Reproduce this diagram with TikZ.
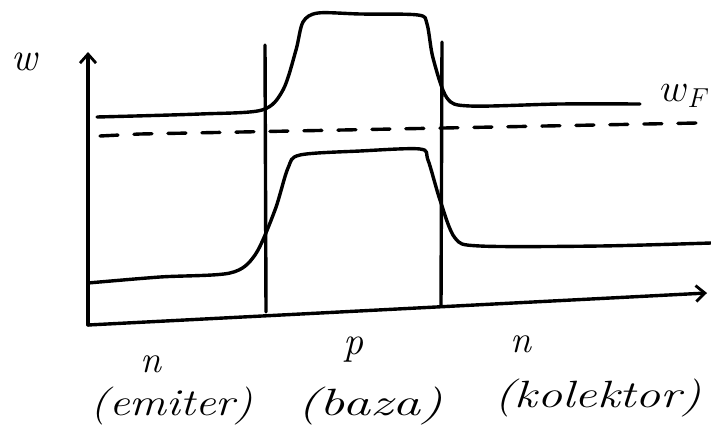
\documentclass[tikz,border=0pt]{standalone}
\usepackage{fontspec}
\usepackage{graphicx}
\usetikzlibrary{arrows.meta}
\begin{document}
\begin{tikzpicture}[x=1pt,y=-1pt,
  pen/.style={line width=3.4pt,line cap=round,line join=round,black},
  axisarrow/.style={pen,-{Straight Barb[length=9pt,width=16pt,line width=2.8pt]}},
  lbl/.style={font=\fontsize{20}{24}\selectfont\itshape,inner sep=0pt}]
\useasboundingbox (0,0) rectangle (711,441);
% axes
\coordinate (o) at (88,325);
\coordinate (ytop) at (88,52);
\coordinate (xend) at (707,293);
\draw[axisarrow] (o) -- (ytop);
\draw[axisarrow] (o) -- (xend);
% junction lines
\coordinate (j1t) at (265,45);
\coordinate (j1b) at (266,312);
\coordinate (j2t) at (442,42);
\coordinate (j2b) at (441,306);
\draw[pen] (j1t) -- (j1b);
\draw[pen] (j2t) -- (j2b);
% conduction band
\draw[pen] plot[smooth,tension=0.5] coordinates {(97,117) (200,114) (262,110) (283,90) (296,50) (303,22) (318,13) (360,14) (418,15) (427,24) (433,58) (447,98) (470,106) (560,104) (640,104)};
% Fermi level
\draw[pen,dash pattern=on 18pt off 16pt] (100,136) -- (140,134) -- (697,123);
% valence band
\draw[pen] plot[smooth,tension=0.5] coordinates {(88,283) (160,277) (230,273) (255,255) (275,210) (288,168) (300,155) (360,151) (420,149) (428,160) (440,200) (455,238) (480,246) (600,246) (711,243)};
% labels
\node[lbl] (W) at (25,62) {\scalebox{2.0}{w}};
\node[lbl] (WF) at (685,96) {\scalebox{1.9}{$w_F$}};
\node[lbl] (n1) at (151,364) {\scalebox{1.9}{n}};
\node[lbl] (p) at (353,350) {\scalebox{2.0}{p}};
\node[lbl] (n2) at (521,344) {\scalebox{1.9}{n}};
\node[lbl] (em) at (172,406) {\scalebox{2.3}[1.9]{(emiter)}};
\node[lbl] (bz) at (370,406) {\scalebox{2.8}[1.9]{(baza)}};
\node[lbl] (kol) at (598,398) {\scalebox{2.5}[1.9]{(kolektor)}};
\end{tikzpicture}
\end{document}
